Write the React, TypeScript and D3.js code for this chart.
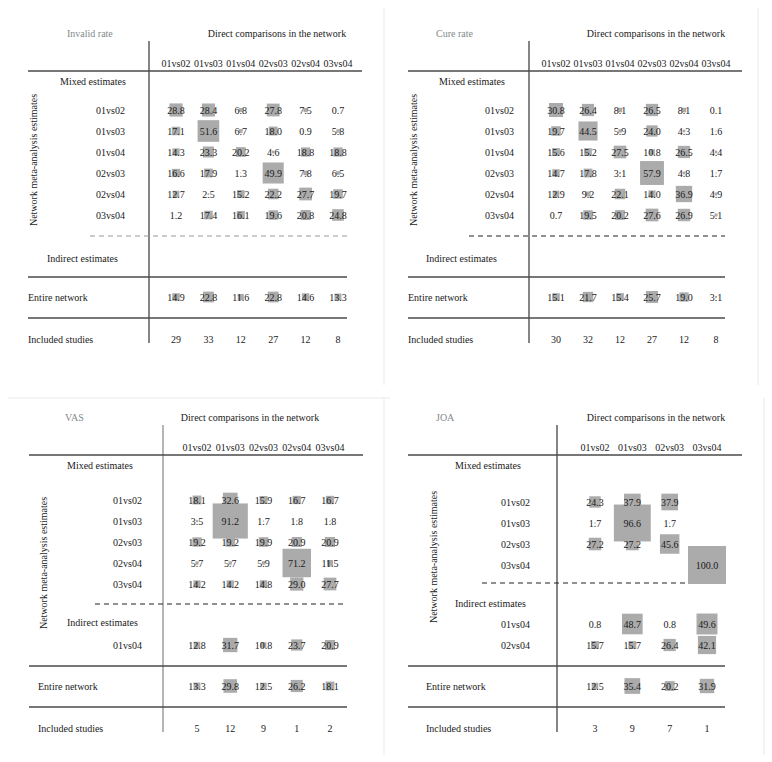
import React from 'react';
import * as d3 from 'd3';

// comparison labels
const cols6 = ['01vs02', '01vs03', '01vs04', '02vs03', '02vs04', '03vs04'];
const colsVas = ['01vs02', '01vs03', '02vs03', '02vs04', '03vs04'];
const colsJoa = ['01vs02', '01vs03', '02vs03', '03vs04'];

// Invalid rate
const invalidMixedRows = ['01vs02', '01vs03', '01vs04', '02vs03', '02vs04', '03vs04'];
const invalidMixed = [
  [28.8, 28.4, 6.8, 27.8, 7.5, 0.7],
  [17.1, 51.6, 6.7, 18.0, 0.9, 5.8],
  [14.3, 23.3, 20.2, 4.6, 18.8, 18.8],
  [16.6, 17.9, 1.3, 49.9, 7.8, 6.5],
  [12.7, 2.5, 15.2, 22.2, 27.7, 19.7],
  [1.2, 17.4, 16.1, 19.6, 20.8, 24.8],
];
const invalidEntire = [14.9, 22.8, 11.6, 22.8, 14.6, 13.3];
const invalidStudies = [29, 33, 12, 27, 12, 8];

// Cure rate
const cureMixedRows = ['01vs02', '01vs03', '01vs04', '02vs03', '02vs04', '03vs04'];
const cureMixed = [
  [30.8, 26.4, 8.1, 26.5, 8.1, 0.1],
  [19.7, 44.5, 5.9, 24.0, 4.3, 1.6],
  [15.6, 15.2, 27.5, 10.8, 26.5, 4.4],
  [14.7, 17.8, 3.1, 57.9, 4.8, 1.7],
  [12.9, 9.2, 22.1, 14.0, 36.9, 4.9],
  [0.7, 19.5, 20.2, 27.6, 26.9, 5.1],
];
const cureEntire = [15.1, 21.7, 15.4, 25.7, 19.0, 3.1];
const cureStudies = [30, 32, 12, 27, 12, 8];

// VAS
const vasMixedRows = ['01vs02', '01vs03', '02vs03', '02vs04', '03vs04'];
const vasMixed = [
  [18.1, 32.6, 15.9, 16.7, 16.7],
  [3.5, 91.2, 1.7, 1.8, 1.8],
  [19.2, 19.2, 19.9, 20.9, 20.9],
  [5.7, 5.7, 5.9, 71.2, 11.5],
  [14.2, 14.2, 14.8, 29.0, 27.7],
];
const vasIndirectRows = ['01vs04'];
const vasIndirect = [[12.8, 31.7, 10.8, 23.7, 20.9]];
const vasEntire = [13.3, 29.8, 12.5, 26.2, 18.1];
const vasStudies = [5, 12, 9, 1, 2];

// JOA
const joaMixedRows = ['01vs02', '01vs03', '02vs03', '03vs04'];
const joaMixed = [
  [24.3, 37.9, 37.9, null],
  [1.7, 96.6, 1.7, null],
  [27.2, 27.2, 45.6, null],
  [null, null, null, 100.0],
];
const joaIndirectRows = ['01vs04', '02vs04'];
const joaIndirect = [
  [0.8, 48.7, 0.8, 49.6],
  [15.7, 15.7, 26.4, 42.1],
];
const joaEntire = [12.5, 35.4, 20.2, 31.9];
const joaStudies = [3, 9, 7, 1];

const FONT = '"Liberation Serif", "DejaVu Serif", serif';
const size = d3.scalePow().exponent(0.85).domain([0, 100]).range([0, 38]);

type Layout = {
  title: string; titleX: number; top: number; dirX: number;
  vx: number; vBottom: number; vColor: string;
  lineL: number; lineR: number; lineR2: number;
  colRange: [number, number];
  mixedX: number; rowRight: number; rowStart: number; step: number;
  dashY: number; dashL: number; dashR: number; dashColor: string;
  indX: number; indY: number; indStart: number;
  entireX: number; secY: number; rotX: number; rotY: number;
};

function Panel({ L, cols, mixedRows, mixed, indRows, ind, entire, studies }: any) {
  const lay: Layout = L;
  const x = d3.scalePoint<string>().domain(cols).range(lay.colRange);
  const t = lay.top;
  const cells: { cx: number; cy: number; v: number }[] = [];
  mixed.forEach((row: (number | null)[], i: number) =>
    row.forEach((v, j) => { if (v != null) cells.push({ cx: x(cols[j])!, cy: lay.rowStart + i * lay.step, v }); }));
  ind.forEach((row: number[], i: number) =>
    row.forEach((v, j) => cells.push({ cx: x(cols[j])!, cy: lay.indStart + i * lay.step, v })));
  const entY = lay.secY + 20;
  entire.forEach((v: number, j: number) => cells.push({ cx: x(cols[j])!, cy: entY, v }));
  const text = { fontFamily: FONT, fontSize: 10, fill: '#1a1a1a' } as const;
  return (
    <g>
      <text x={lay.titleX} y={t} dominantBaseline="central" style={{ ...text, fill: '#7f8b8b' }}>{lay.title}</text>
      <text x={lay.dirX} y={t} textAnchor="middle" dominantBaseline="central" style={text}>Direct comparisons in the network</text>
      <line x1={lay.vx} x2={lay.vx} y1={t + 8} y2={lay.vBottom} stroke={lay.vColor} strokeWidth={1.1} />
      {cols.map((c: string) => (
        <text key={c} x={x(c)} y={t + 30} textAnchor="middle" dominantBaseline="central" style={text}>{c}</text>
      ))}
      <line x1={lay.lineL} x2={lay.lineR} y1={t + 38} y2={t + 38} stroke="#4a4a4a" strokeWidth={1.3} />
      <text x={lay.mixedX} y={t + 48} dominantBaseline="central" style={text}>Mixed estimates</text>
      {mixedRows.map((r: string, i: number) => (
        <text key={r} x={lay.rowRight} y={lay.rowStart + i * lay.step} textAnchor="end" dominantBaseline="central" style={text}>{r}</text>
      ))}
      <line x1={lay.dashL} x2={lay.dashR} y1={lay.dashY} y2={lay.dashY} stroke={lay.dashColor} strokeWidth={1.1} strokeDasharray="5,4" />
      <text x={lay.indX} y={lay.indY} dominantBaseline="central" style={text}>Indirect estimates</text>
      {indRows.map((r: string, i: number) => (
        <text key={r} x={lay.rowRight} y={lay.indStart + i * lay.step} textAnchor="end" dominantBaseline="central" style={text}>{r}</text>
      ))}
      <line x1={lay.lineL} x2={lay.lineR2} y1={lay.secY} y2={lay.secY} stroke="#4a4a4a" strokeWidth={1.3} />
      <text x={lay.entireX} y={entY} dominantBaseline="central" style={text}>Entire network</text>
      <line x1={lay.lineL} x2={lay.lineR2} y1={lay.secY + 41} y2={lay.secY + 41} stroke="#4a4a4a" strokeWidth={1.3} />
      <text x={lay.entireX} y={lay.secY + 62} dominantBaseline="central" style={text}>Included studies</text>
      {studies.map((v: number, j: number) => (
        <text key={j} x={x(cols[j])} y={lay.secY + 62} textAnchor="middle" dominantBaseline="central" style={text}>{v}</text>
      ))}
      {cells.map((c, i) => {
        const s = size(c.v);
        return <rect key={'r' + i} x={c.cx - s / 2} y={c.cy - s / 2} width={s} height={s} fill="#ababab" />;
      })}
      {cells.map((c, i) => (
        <text key={'t' + i} x={c.cx} y={c.cy} textAnchor="middle" dominantBaseline="central" style={text}>{c.v.toFixed(1)}</text>
      ))}
      <text transform={`translate(${lay.rotX},${lay.rotY}) rotate(-90)`} textAnchor="middle" dominantBaseline="central" style={text}>
        Network meta-analysis estimates
      </text>
    </g>
  );
}

const L1: Layout = {
  title: 'Invalid rate', titleX: 67, top: 33, dirX: 277, vx: 149, vBottom: 343, vColor: '#222',
  lineL: 28, lineR: 362, lineR2: 347, colRange: [176, 338], mixedX: 60, rowRight: 125,
  rowStart: 110, step: 21, dashY: 236, dashL: 90, dashR: 347, dashColor: '#9a9a9a',
  indX: 47, indY: 258, indStart: 280, entireX: 28, secY: 277, rotX: 33, rotY: 160,
};
const L2: Layout = {
  title: 'Cure rate', titleX: 436, top: 33, dirX: 656, vx: 529, vBottom: 343, vColor: '#222',
  lineL: 408, lineR: 742, lineR2: 725, colRange: [556, 716], mixedX: 439, rowRight: 514,
  rowStart: 110, step: 21, dashY: 236, dashL: 469, dashR: 725, dashColor: '#222',
  indX: 426, indY: 258, indStart: 280, entireX: 408, secY: 277, rotX: 413, rotY: 160,
};
const L3: Layout = {
  title: 'VAS', titleX: 65, top: 417, dirX: 250, vx: 163, vBottom: 732, vColor: '#777',
  lineL: 29, lineR: 363, lineR2: 347, colRange: [197, 330], mixedX: 67, rowRight: 142,
  rowStart: 500, step: 21, dashY: 604, dashL: 95, dashR: 347, dashColor: '#222',
  indX: 67, indY: 622, indStart: 645, entireX: 38, secY: 666, rotX: 43, rotY: 563,
};
const L4: Layout = {
  title: 'JOA', titleX: 436, top: 417, dirX: 656, vx: 557, vBottom: 732, vColor: '#222',
  lineL: 408, lineR: 742, lineR2: 725, colRange: [595, 707], mixedX: 455, rowRight: 530,
  rowStart: 502, step: 21, dashY: 583, dashL: 482, dashR: 720, dashColor: '#222',
  indX: 455, indY: 603, indStart: 624, entireX: 426, secY: 666, rotX: 433, rotY: 557,
};

export default function App() {
  return (
    <svg width={772} height={762} style={{ position: 'absolute', left: 0, top: 0, background: '#fff' }}>
      {/* faint panel frames */}
      <line x1={384} x2={384} y1={8} y2={385} stroke="#f0f0f0" strokeWidth={1.5} />
      <line x1={758} x2={758} y1={8} y2={385} stroke="#f0f0f0" strokeWidth={1.5} />
      <line x1={8} x2={390} y1={398} y2={398} stroke="#f0f0f0" strokeWidth={1.5} />
      <line x1={384} x2={384} y1={398} y2={755} stroke="#f0f0f0" strokeWidth={1.5} />
      <line x1={764} x2={764} y1={398} y2={755} stroke="#f0f0f0" strokeWidth={1.5} />
      <Panel L={L1} cols={cols6} mixedRows={invalidMixedRows} mixed={invalidMixed} indRows={[]} ind={[]} entire={invalidEntire} studies={invalidStudies} />
      <Panel L={L2} cols={cols6} mixedRows={cureMixedRows} mixed={cureMixed} indRows={[]} ind={[]} entire={cureEntire} studies={cureStudies} />
      <Panel L={L3} cols={colsVas} mixedRows={vasMixedRows} mixed={vasMixed} indRows={vasIndirectRows} ind={vasIndirect} entire={vasEntire} studies={vasStudies} />
      <Panel L={L4} cols={colsJoa} mixedRows={joaMixedRows} mixed={joaMixed} indRows={joaIndirectRows} ind={joaIndirect} entire={joaEntire} studies={joaStudies} />
    </svg>
  );
}
